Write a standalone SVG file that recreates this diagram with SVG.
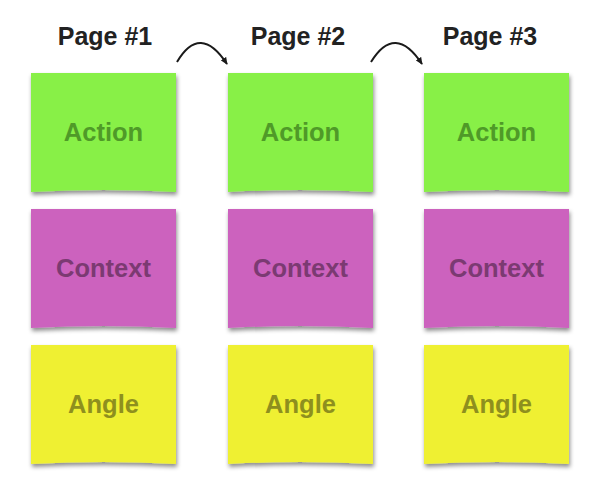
<svg xmlns="http://www.w3.org/2000/svg" width="600" height="489" viewBox="0 0 600 489">
<defs>
<filter id="sh" x="-10%" y="-10%" width="120%" height="125%">
<feDropShadow dx="1" dy="3" stdDeviation="2" flood-color="#000" flood-opacity="0.45"/>
</filter>
<marker id="ah" viewBox="0 0 10 10" refX="8" refY="5" markerWidth="8" markerHeight="8" orient="auto" markerUnits="userSpaceOnUse">
<path d="M0,1 L9,5 L0,9 Z" fill="#1a1a1a"/>
</marker>
<path id="note" d="M0,0 H145 V119 Q72.5,115 0,119 Z"/>
</defs>
<style>
.title{font-family:"Liberation Sans",Arial,sans-serif;font-weight:bold;font-size:25px;fill:#222;text-anchor:middle}
.lbl{font-family:"Liberation Sans",Arial,sans-serif;font-weight:bold;font-size:25.5px;text-anchor:middle}
.green{fill:#88F046}
.green-t{fill:#4F9A28}
.pink{fill:#CC62BE}
.pink-t{fill:#7B3A72}
.yellow{fill:#EFF033}
.yellow-t{fill:#8E8F1E}
.arc{fill:none;stroke:#1a1a1a;stroke-width:2}
</style>
<rect width="600" height="489" fill="#fff"/>
<g id="titles">
<text class="title" x="105" y="45">Page #1</text>
<text class="title" x="298" y="45">Page #2</text>
<text class="title" x="490" y="45">Page #3</text>
</g>
<g id="connectors">
<path class="arc" d="M177,62 Q200,23 227,64" marker-end="url(#ah)"/>
<path class="arc" d="M371,62 Q395,23 422,64" marker-end="url(#ah)"/>
</g>
<g id="action1"><use href="#note" x="31" y="73" class="green" filter="url(#sh)"/><text class="lbl green-t" x="103.5" y="141">Action</text></g>
<g id="action2"><use href="#note" x="228" y="73" class="green" filter="url(#sh)"/><text class="lbl green-t" x="300.5" y="141">Action</text></g>
<g id="action3"><use href="#note" x="424" y="73" class="green" filter="url(#sh)"/><text class="lbl green-t" x="496.5" y="141">Action</text></g>
<g id="context1"><use href="#note" x="31" y="209" class="pink" filter="url(#sh)"/><text class="lbl pink-t" x="103.5" y="277">Context</text></g>
<g id="context2"><use href="#note" x="228" y="209" class="pink" filter="url(#sh)"/><text class="lbl pink-t" x="300.5" y="277">Context</text></g>
<g id="context3"><use href="#note" x="424" y="209" class="pink" filter="url(#sh)"/><text class="lbl pink-t" x="496.5" y="277">Context</text></g>
<g id="angle1"><use href="#note" x="31" y="345" class="yellow" filter="url(#sh)"/><text class="lbl yellow-t" x="103.5" y="413">Angle</text></g>
<g id="angle2"><use href="#note" x="228" y="345" class="yellow" filter="url(#sh)"/><text class="lbl yellow-t" x="300.5" y="413">Angle</text></g>
<g id="angle3"><use href="#note" x="424" y="345" class="yellow" filter="url(#sh)"/><text class="lbl yellow-t" x="496.5" y="413">Angle</text></g>
</svg>
